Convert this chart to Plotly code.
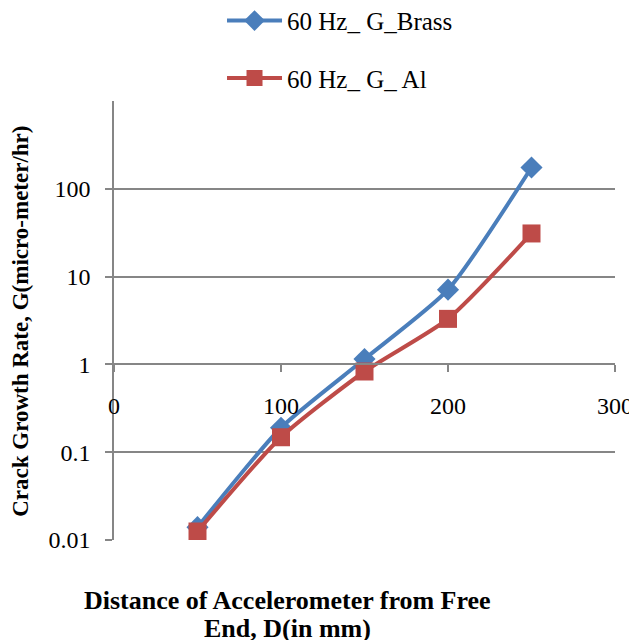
import plotly.graph_objects as go

# distance of accelerometer from free end (mm)
distance = [50, 100, 150, 200, 250]
# crack growth rate G (micro-meter/hr)
g_brass = [0.014, 0.19, 1.15, 7.1, 175]
g_al = [0.0125, 0.148, 0.83, 3.3, 31]

blue = '#4A7EBB'
red = '#BE4B48'
serif = 'Liberation Serif, Times New Roman, serif'

fig = go.Figure()
fig.add_trace(go.Scatter(
    name='60 Hz_ G_Brass', x=distance, y=g_brass,
    mode='lines+markers', line=dict(color=blue, width=4, shape='spline', smoothing=0.6),
    marker=dict(symbol='diamond', size=17, color=blue),
    legendgroup='a'))
fig.add_trace(go.Scatter(
    name='60 Hz_ G_ Al', x=distance, y=g_al,
    mode='lines+markers', line=dict(color=red, width=4, shape='spline', smoothing=0.6),
    marker=dict(symbol='square', size=18, color=red),
    legendgroup='b'))

# page body has an 8px margin, so the figure is a bit smaller than the window
fig.update_layout(
    width=629, height=632,
    margin=dict(l=106, r=22, t=93, b=100, autoexpand=False),
    plot_bgcolor='white', paper_bgcolor='white',
    font=dict(family=serif, size=24, color='black'),
    showlegend=True,
    legend=dict(x=0.2156, y=1.235, xanchor='left', yanchor='top', itemwidth=55,
                tracegroupgap=22, font=dict(size=25), bgcolor='rgba(0,0,0,0)'),
)

# x axis crosses the y axis at G = 1
fig.update_xaxes(
    range=[0, 300], tickvals=[0, 100, 200, 300],
    anchor='free', position=0.401,
    showgrid=False, zeroline=False,
    showline=True, linecolor='#868686', linewidth=1.5,
    ticks='outside', ticklen=7, tickcolor='#868686', tickwidth=1.5,
    ticklabelstandoff=13,
)
fig.update_yaxes(
    type='log', range=[-2, 3],
    tickvals=[0.01, 0.1, 1, 10, 100], ticktext=['0.01', '0.1', '1', '10', '100'],
    showgrid=True, gridcolor='#868686', gridwidth=1.5,
    zeroline=False, showline=True, linecolor='#868686', linewidth=1.5,
    ticks='outside', ticklen=7, tickcolor='#868686', tickwidth=1.5,
    ticklabelstandoff=10,
)

fig.add_annotation(
    text='<b>Crack Growth Rate, G(micro-meter/hr)</b>', textangle=-90,
    xref='paper', yref='paper', x=-0.1856, y=0.497, xanchor='center', yanchor='middle',
    showarrow=False, font=dict(size=23, family=serif))
fig.add_annotation(
    text='<b>Distance of Accelerometer from Free</b>',
    xref='paper', yref='paper', x=0.347, y=-0.1367, xanchor='center', yanchor='middle',
    showarrow=False, font=dict(size=26, family=serif))
fig.add_annotation(
    text='<b>End, D(in mm)</b>',
    xref='paper', yref='paper', x=0.347, y=-0.2005, xanchor='center', yanchor='middle',
    showarrow=False, font=dict(size=26, family=serif))

fig.write_html('out.html')
